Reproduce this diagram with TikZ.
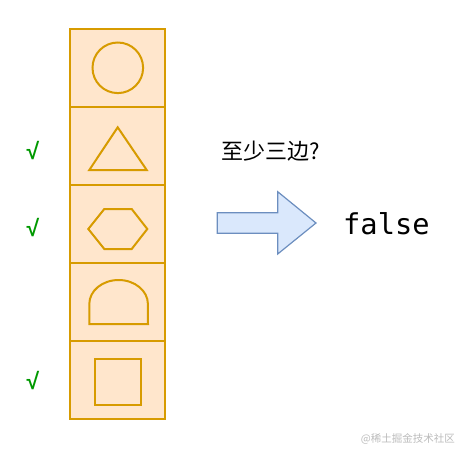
\documentclass[tikz,border=0pt]{standalone}
\usepackage{fontspec}
\setmainfont{Noto Sans CJK SC}
\newfontfamily\cjk{Noto Sans CJK SC}
\newfontfamily\monof{DejaVu Sans Mono}
\newfontfamily\tickf{Liberation Sans}
\definecolor{cellfill}{HTML}{FFE6CC}
\definecolor{cellline}{HTML}{D79B00}
\definecolor{arrfill}{HTML}{DAE8FC}
\definecolor{arrline}{HTML}{6C8EBF}
\definecolor{okgreen}{HTML}{009900}
\definecolor{wmark}{HTML}{BBBBBB}
\begin{document}
\begin{tikzpicture}[x=1pt,y=-1pt,
  cellbox/.style={draw=cellline,fill=cellfill,line width=2pt,minimum width=95pt,minimum height=78pt,inner sep=0pt},
  shp/.style={draw=cellline,line width=2pt,line join=miter},
  tick/.style={text=okgreen,font=\tickf\fontsize{23}{23}\selectfont\bfseries,inner sep=0pt},
  bigarrow/.style={draw=arrline,fill=arrfill,line width=1.2pt,line join=miter}]
\useasboundingbox (0,0) rectangle (458,450);
\node[cellbox] (c1) at (117.8,67.8) {};
\node[cellbox] (c2) at (117.8,145.8) {};
\node[cellbox] (c3) at (117.8,223.8) {};
\node[cellbox] (c4) at (117.8,301.8) {};
\node[cellbox] (c5) at (117.8,379.8) {};
% shapes
\draw[shp] (c1.center) circle[radius=25.3];
\draw[shp] (117.7,127.3) -- (146.7,170) -- (89.3,170) -- cycle;
\draw[shp] (88.3,229) -- (104.3,209) -- (131.7,209) -- (147.3,229) -- (131.7,249) -- (104.3,249) -- cycle;
\draw[shp] (89.3,324) -- (89.3,304) arc[start angle=180,end angle=360,x radius=29.3,y radius=24] -- (148,324) -- cycle;
\draw[shp] (94.7,358.7) rectangle (141.3,405);
% ticks
\node[tick] (t2) at (33,151) {√};
\node[tick] (t3) at (33,228) {√};
\node[tick] (t5) at (33,381) {√};
% text
\node[anchor=west,inner sep=0pt,font=\cjk\fontsize{22}{22}\selectfont] (q) at (221,151.5) {至少三边?};
\draw[bigarrow] (217.3,212.7) -- (277.7,212.7) -- (277.7,191.7) -- (316,223) -- (277.7,254) -- (277.7,233.3) -- (217.3,233.3) -- cycle;
\coordinate (tip) at (316,223);
\node[anchor=west,inner sep=0pt,font=\monof\fontsize{28.7}{28.7}\selectfont] (res) at (343,224) {false};
\node[anchor=east,inner sep=0pt,text=wmark,font=\cjk\fontsize{10.5}{10.5}\selectfont] (wm) at (455,438.5) {@稀土掘金技术社区};
\end{tikzpicture}
\end{document}
